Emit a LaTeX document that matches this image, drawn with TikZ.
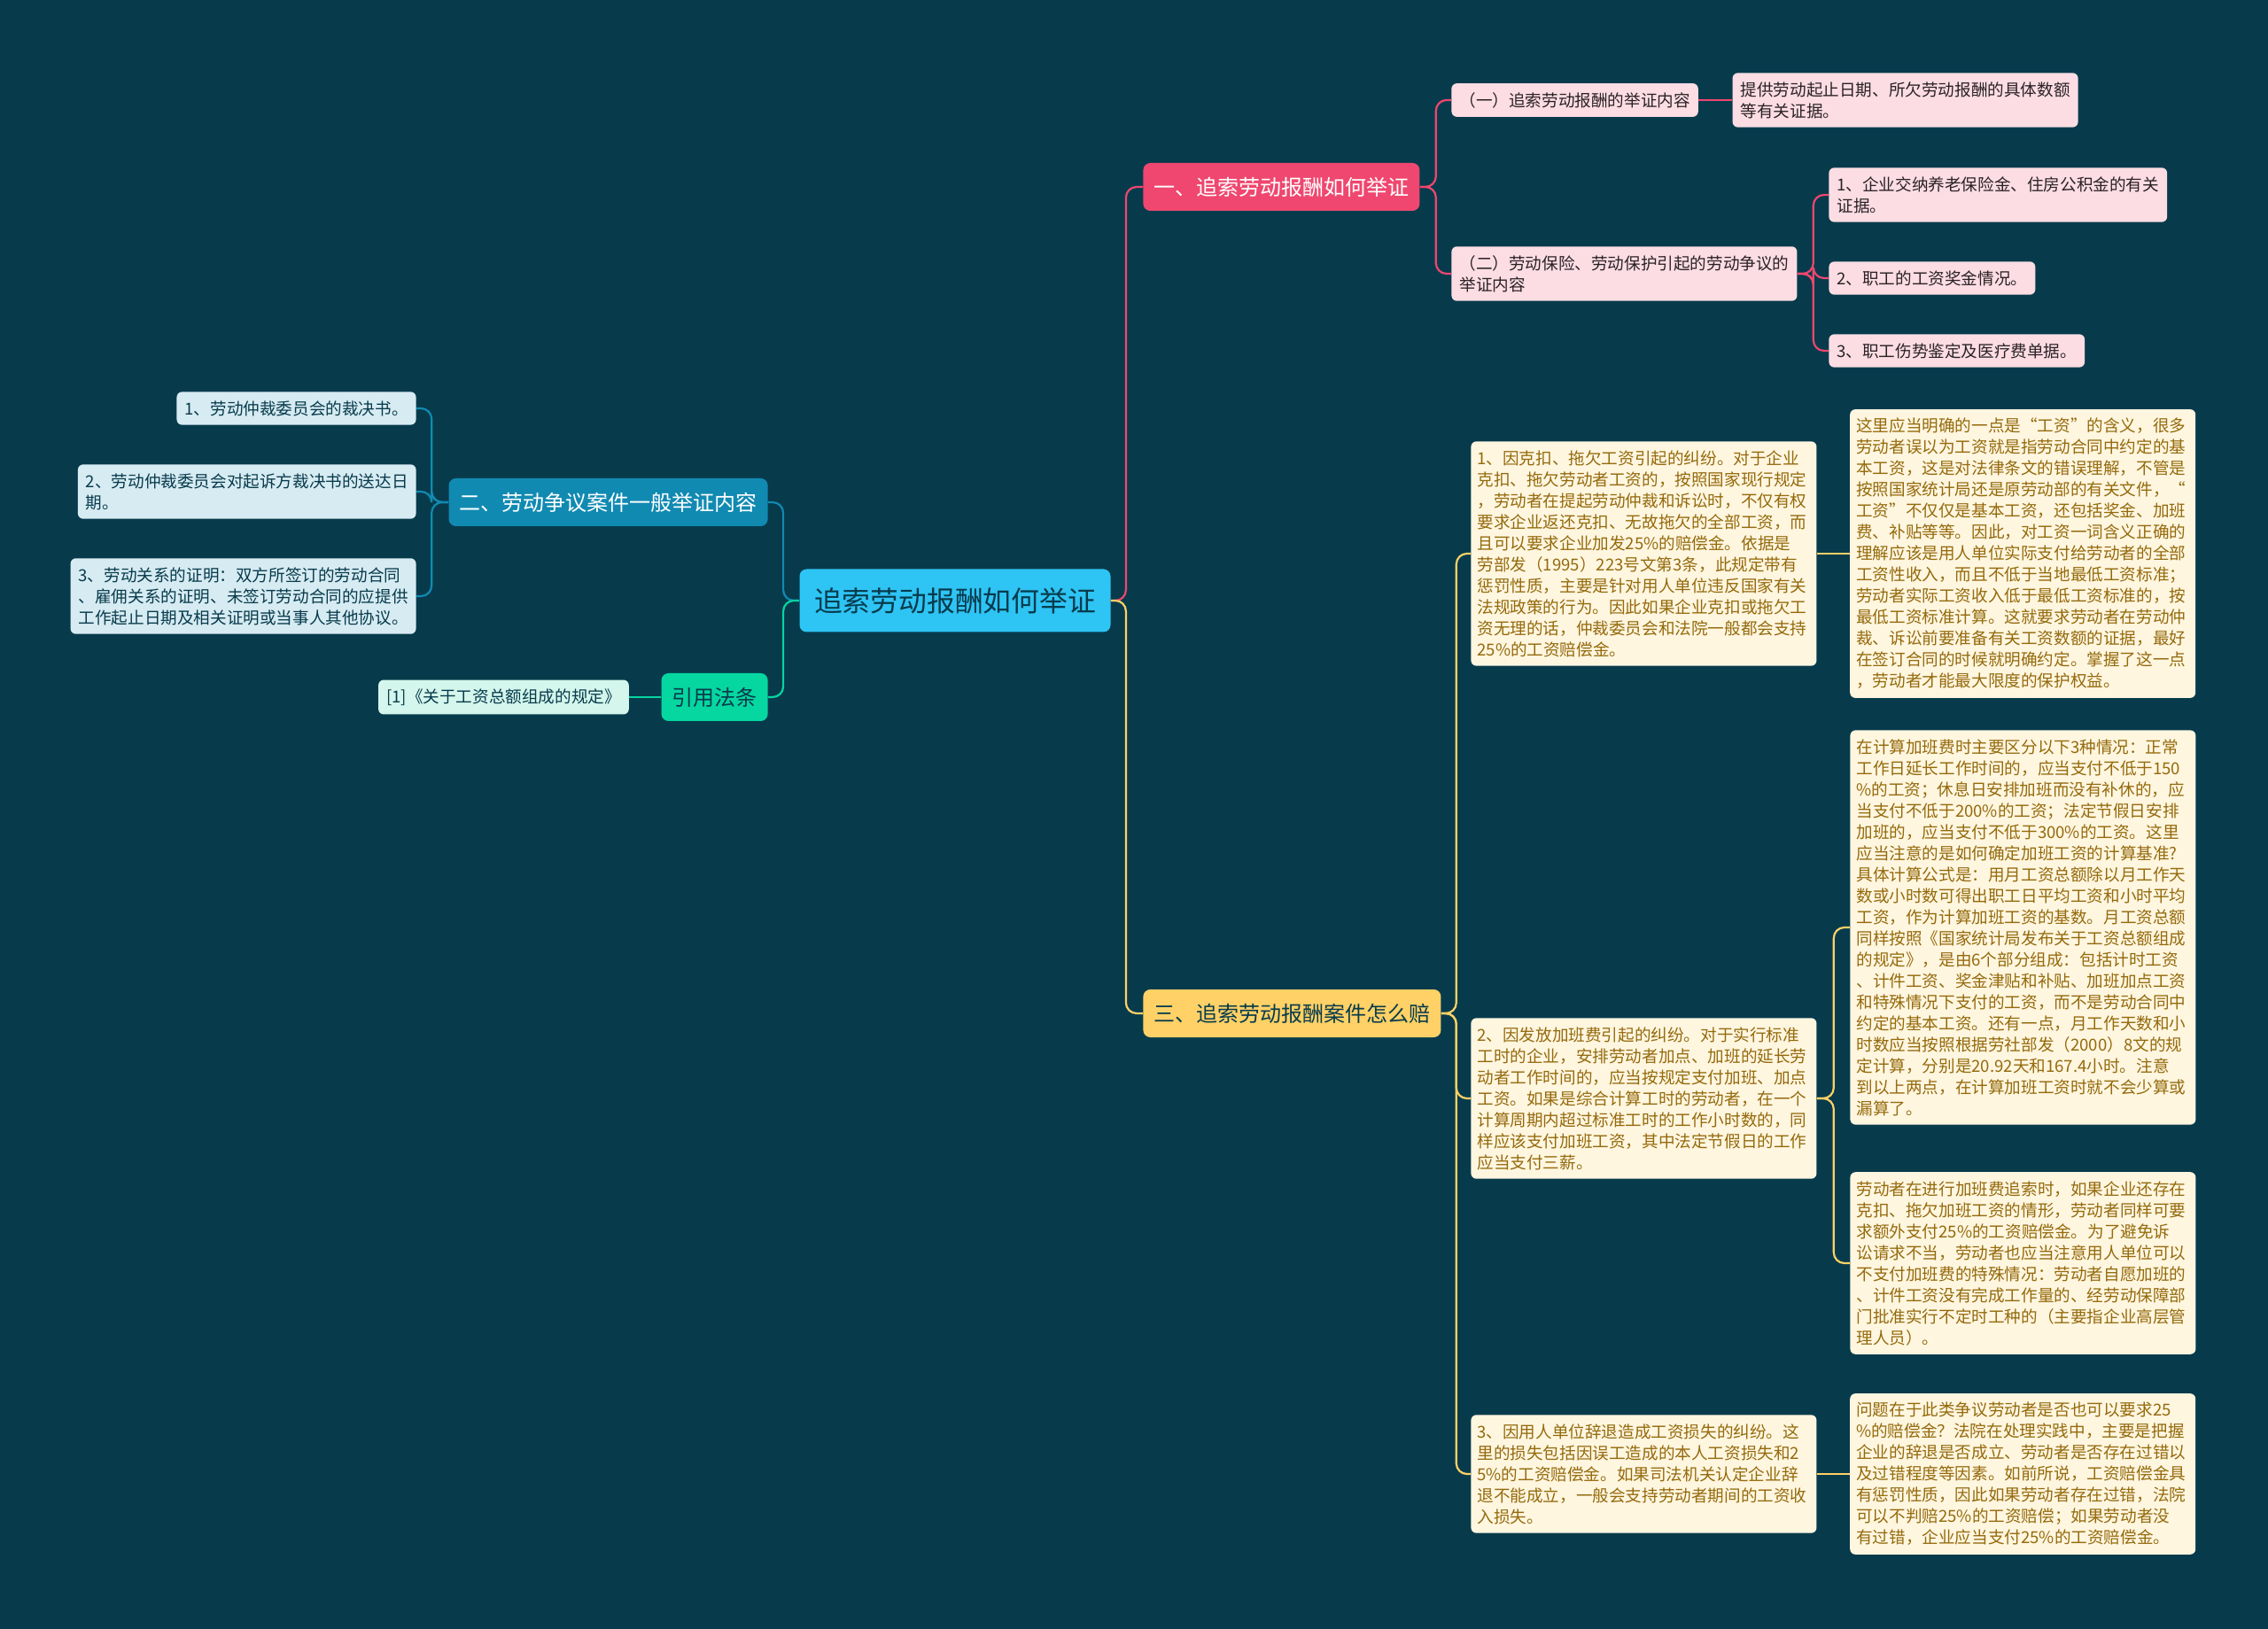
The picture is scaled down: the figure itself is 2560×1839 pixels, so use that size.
\documentclass[tikz,border=0pt]{standalone}
\usepackage{fontspec}
\setmainfont{Noto Sans CJK SC}
\usetikzlibrary{positioning, calc}
\definecolor{mapbg}{HTML}{073B4C}
\definecolor{rootblue}{HTML}{2EC4F4}
\definecolor{rosered}{HTML}{EF476F}
\definecolor{rosepale}{HTML}{FCDDE4}
\definecolor{seablue}{HTML}{118AB2}
\definecolor{seapale}{HTML}{D7EBF2}
\definecolor{mintgreen}{HTML}{06D6A0}
\definecolor{mintpale}{HTML}{D4F6EC}
\definecolor{sunyellow}{HTML}{FFD166}
\definecolor{sunpale}{HTML}{FFF6E0}
\definecolor{sundark}{HTML}{946A0C}
\definecolor{inkdark}{HTML}{2A2226}

\begin{document}
\begin{tikzpicture}[
    x=0.5pt, y=-0.5pt,
    rootbox/.style={rectangle, fill=rootblue, rounded corners=4pt, minimum width=175.5pt, minimum height=35.5pt, text=mapbg, font=\fontsize{15.9}{19}\selectfont},
    branch/.style={rectangle, rounded corners=4pt, minimum height=27pt, inner xsep=6pt, font=\fontsize{12}{14}\selectfont},
    leaf/.style={rectangle, rounded corners=3pt, inner xsep=4.5pt, inner ysep=5pt, align=left, font=\fontsize{9.3}{12}\selectfont},
    pinkleaf/.style={leaf, fill=rosepale, text=inkdark},
    blueleaf/.style={leaf, fill=seapale, text=mapbg},
    greenleaf/.style={leaf, fill=mintpale, text=mapbg},
    goldleaf/.style={leaf, fill=sunpale, text=sundark, text width=188pt, inner xsep=3.5pt},
    link/.style={line width=1.1pt, rounded corners=6pt}
]
\fill[mapbg] (0,0) rectangle (2560,1839);
\useasboundingbox (0,0) rectangle (2560,1839);

\node[rootbox] (root) at (1078,678) {追索劳动报酬如何举证};

\node[branch, fill=rosered, text=white, anchor=west] (evidence) at (1290,211) {一、追索劳动报酬如何举证};
\node[branch, fill=seablue, text=white, anchor=east] (general) at (867,567) {二、劳动争议案件一般举证内容};
\node[branch, fill=mintgreen, text=mapbg, anchor=east] (law) at (867,787) {引用法条};
\node[branch, fill=sunyellow, text=mapbg, anchor=west] (compensation) at (1290,1144) {三、追索劳动报酬案件怎么赔};

\node[pinkleaf, anchor=west] (content) at (1638,113) {（一）追索劳动报酬的举证内容};
\node[pinkleaf, right=19pt of content] (period) {提供劳动起止日期、所欠劳动报酬的具体数额\\%
等有关证据。};
\node[pinkleaf, anchor=west] (injury) at (1638,309) {（二）劳动保险、劳动保护引起的劳动争议的\\%
举证内容};
\node[pinkleaf, anchor=west] (pension) at (2064,220) {1、企业交纳养老保险金、住房公积金的有关\\%
证据。};
\node[pinkleaf, anchor=west] (bonus) at (2064,314) {2、职工的工资奖金情况。};
\node[pinkleaf, anchor=west] (medical) at (2064,396) {3、职工伤势鉴定及医疗费单据。};

\node[blueleaf, anchor=east] (award) at (470,461) {1、劳动仲裁委员会的裁决书。};
\node[blueleaf, anchor=east] (served) at (470,555) {2、劳动仲裁委员会对起诉方裁决书的送达日\\%
期。};
\node[blueleaf, anchor=east] (relation) at (470,673) {3、劳动关系的证明：双方所签订的劳动合同\\%
、雇佣关系的证明、未签订劳动合同的应提供\\%
工作起止日期及相关证明或当事人其他协议。};

\node[greenleaf, left=18pt of law] (rule) {[1]《关于工资总额组成的规定》};

\node[goldleaf, anchor=west] (deduct) at (1660,625) {1、因克扣、拖欠工资引起的纠纷。对于企业\\%
克扣、拖欠劳动者工资的，按照国家现行规定\\%
，劳动者在提起劳动仲裁和诉讼时，不仅有权\\%
要求企业返还克扣、无故拖欠的全部工资，而\\%
且可以要求企业加发25\%的赔偿金。依据是\\%
劳部发（1995）223号文第3条，此规定带有\\%
惩罚性质，主要是针对用人单位违反国家有关\\%
法规政策的行为。因此如果企业克扣或拖欠工\\%
资无理的话，仲裁委员会和法院一般都会支持\\%
25\%的工资赔偿金。};
\node[goldleaf, right=18.5pt of deduct] (wagenote) {这里应当明确的一点是“工资”的含义，很多\\%
劳动者误以为工资就是指劳动合同中约定的基\\%
本工资，这是对法律条文的错误理解，不管是\\%
按照国家统计局还是原劳动部的有关文件，“\\%
工资”不仅仅是基本工资，还包括奖金、加班\\%
费、补贴等等。因此，对工资一词含义正确的\\%
理解应该是用人单位实际支付给劳动者的全部\\%
工资性收入，而且不低于当地最低工资标准；\\%
劳动者实际工资收入低于最低工资标准的，按\\%
最低工资标准计算。这就要求劳动者在劳动仲\\%
裁、诉讼前要准备有关工资数额的证据，最好\\%
在签订合同的时候就明确约定。掌握了这一点\\%
，劳动者才能最大限度的保护权益。};

\node[goldleaf, anchor=west] (overpay) at (1660,1240) {2、因发放加班费引起的纠纷。对于实行标准\\%
工时的企业，安排劳动者加点、加班的延长劳\\%
动者工作时间的，应当按规定支付加班、加点\\%
工资。如果是综合计算工时的劳动者，在一个\\%
计算周期内超过标准工时的工作小时数的，同\\%
样应该支付加班工资，其中法定节假日的工作\\%
应当支付三薪。};
\node[goldleaf, anchor=west] (overtime) at (2088,1047) {在计算加班费时主要区分以下3种情况：正常\\%
工作日延长工作时间的，应当支付不低于150\\%
\%的工资；休息日安排加班而没有补休的，应\\%
当支付不低于200\%的工资；法定节假日安排\\%
加班的，应当支付不低于300\%的工资。这里\\%
应当注意的是如何确定加班工资的计算基准?\\%
具体计算公式是：用月工资总额除以月工作天\\%
数或小时数可得出职工日平均工资和小时平均\\%
工资，作为计算加班工资的基数。月工资总额\\%
同样按照《国家统计局发布关于工资总额组成\\%
的规定》，是由6个部分组成：包括计时工资\\%
、计件工资、奖金津贴和补贴、加班加点工资\\%
和特殊情况下支付的工资，而不是劳动合同中\\%
约定的基本工资。还有一点，月工作天数和小\\%
时数应当按照根据劳社部发（2000）8文的规\\%
定计算，分别是20.92天和167.4小时。注意\\%
到以上两点，在计算加班工资时就不会少算或\\%
漏算了。};
\node[goldleaf, anchor=west] (extra) at (2088,1426) {劳动者在进行加班费追索时，如果企业还存在\\%
克扣、拖欠加班工资的情形，劳动者同样可要\\%
求额外支付25\%的工资赔偿金。为了避免诉\\%
讼请求不当，劳动者也应当注意用人单位可以\\%
不支付加班费的特殊情况：劳动者自愿加班的\\%
、计件工资没有完成工作量的、经劳动保障部\\%
门批准实行不定时工种的（主要指企业高层管\\%
理人员）。};

\node[goldleaf, anchor=west] (dismiss) at (1660,1664) {3、因用人单位辞退造成工资损失的纠纷。这\\%
里的损失包括因误工造成的本人工资损失和2\\%
5\%的工资赔偿金。如果司法机关认定企业辞\\%
退不能成立，一般会支持劳动者期间的工资收\\%
入损失。};
\node[goldleaf, right=18.5pt of dismiss] (fault) {问题在于此类争议劳动者是否也可以要求25\\%
\%的赔偿金？法院在处理实践中，主要是把握\\%
企业的辞退是否成立、劳动者是否存在过错以\\%
及过错程度等因素。如前所说，工资赔偿金具\\%
有惩罚性质，因此如果劳动者存在过错，法院\\%
可以不判赔25\%的工资赔偿；如果劳动者没\\%
有过错，企业应当支付25\%的工资赔偿金。};

\draw[link, draw=rosered] (root.east) -- ++(17,0) |- (evidence.west);
\draw[link, draw=sunyellow] (root.east) -- ++(17,0) |- (compensation.west);
\draw[link, draw=seablue] (root.west) -- ++(-18,0) |- (general.east);
\draw[link, draw=mintgreen] (root.west) -- ++(-18,0) |- (law.east);

\foreach \n in {content,injury}
    \draw[link, draw=rosered] (evidence.east) -- ++(18,0) |- (\n.west);
\draw[link, draw=rosered] (content.east) -- (period.west);
\foreach \n in {pension,bonus,medical}
    \draw[link, draw=rosered] (injury.east) -- ++(18,0) |- (\n.west);

\foreach \n in {award,served,relation}
    \draw[link, draw=seablue] (general.west) -- ++(-19,0) |- (\n.east);
\draw[link, draw=mintgreen] (law.west) -- (rule.east);

\foreach \n in {deduct,overpay,dismiss}
    \draw[link, draw=sunyellow] (compensation.east) -- ++(17,0) |- (\n.west);
\draw[link, draw=sunyellow] (deduct.east) -- (wagenote.west);
\foreach \n in {overtime,extra}
    \draw[link, draw=sunyellow] (overpay.east) -- ++(19,0) |- (\n.west);
\draw[link, draw=sunyellow] (dismiss.east) -- (fault.west);
\end{tikzpicture}
\end{document}
